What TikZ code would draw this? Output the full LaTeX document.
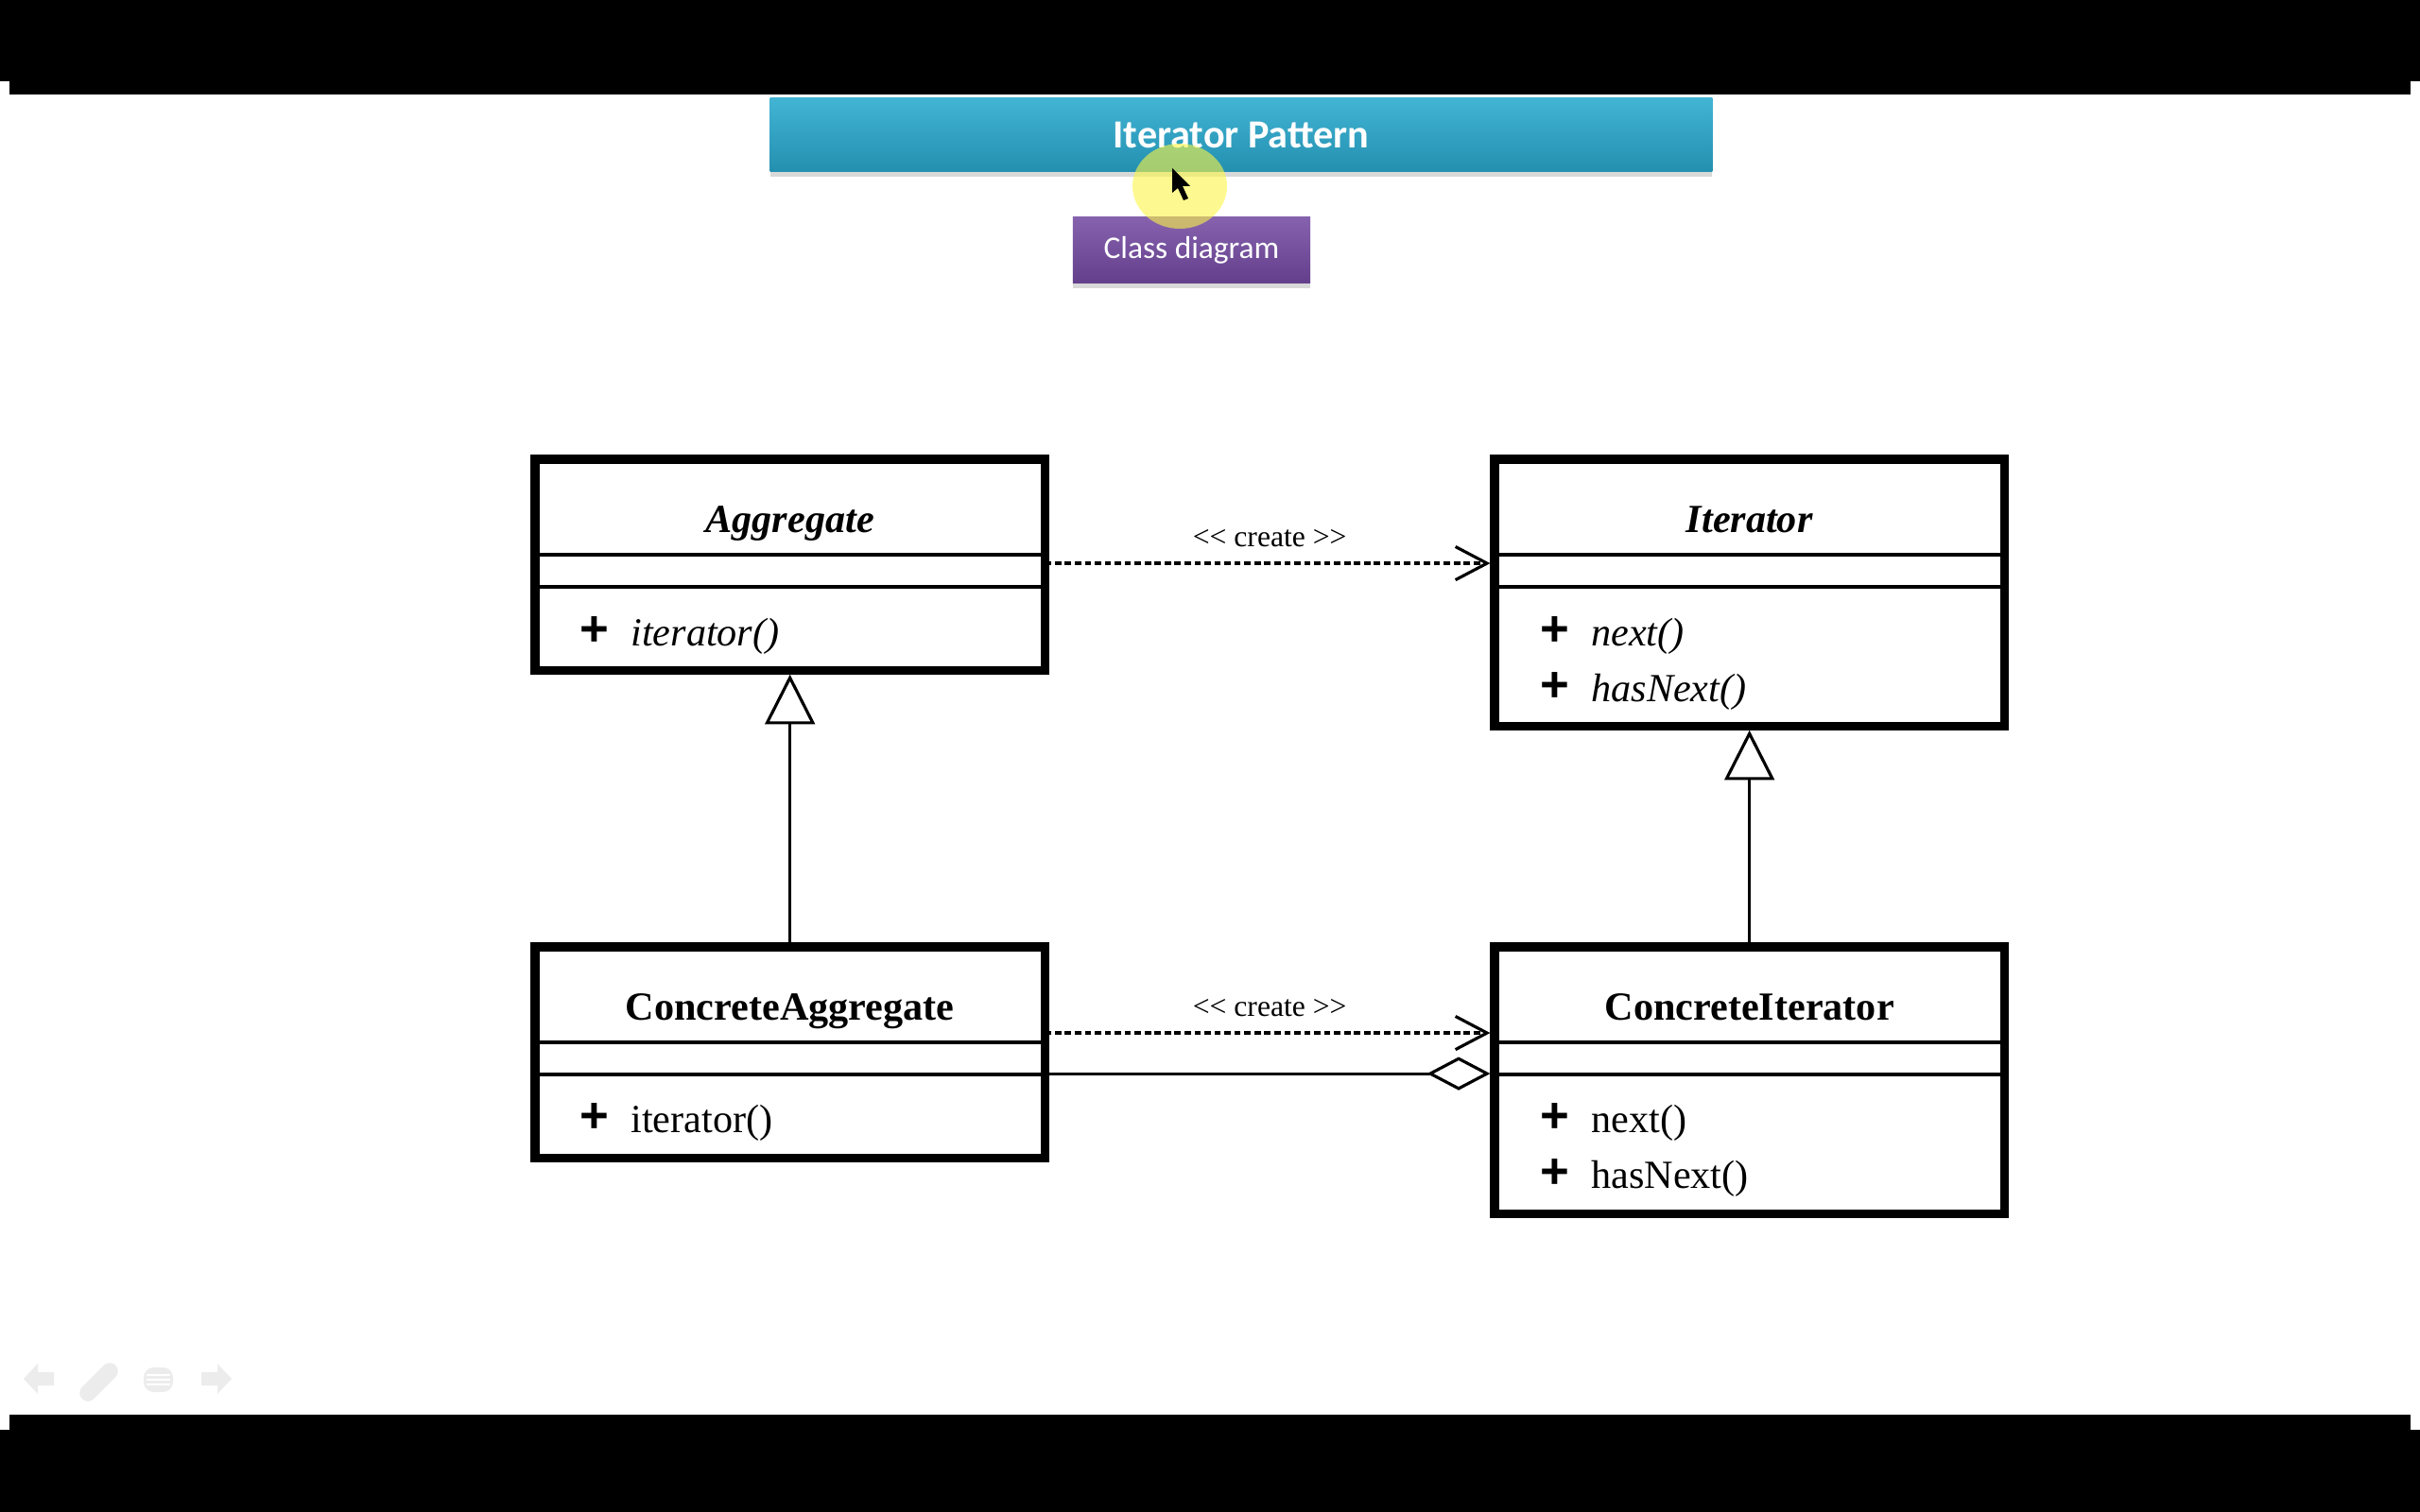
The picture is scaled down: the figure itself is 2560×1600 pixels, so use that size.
\documentclass[tikz,border=0pt]{standalone}
\usepackage{fontspec}
\setmainfont{Liberation Serif}
\newfontfamily\slidefont{Carlito}
\newfontfamily\plusfont{Liberation Sans}
\usetikzlibrary{arrows.meta,shadows}

\definecolor{titletop}{RGB}{66,180,212}
\definecolor{titlebot}{RGB}{36,144,176}
\definecolor{subtop}{RGB}{134,98,174}
\definecolor{subbot}{RGB}{100,64,140}
\definecolor{navgray}{RGB}{236,236,236}
\definecolor{spot}{RGB}{252,246,70}

\newcommand{\plusop}{{\plusfont\bfseries\fontsize{15}{15}\selectfont +}\hspace{6.5pt}}

\begin{document}
\begin{tikzpicture}[x=0.01cm, y=-0.01cm,
  slidebox/.style={inner sep=0pt, text=white,
    drop shadow={shadow xshift=0pt, shadow yshift=-0.06cm, opacity=0.3}},
  classbox/.style={draw, line width=2.6pt, outer sep=0pt, inner sep=0pt,
    anchor=north west, minimum width=5.39cm},
  classname/.style={anchor=base, inner sep=0pt, font=\fontsize{12}{14}\selectfont\bfseries},
  abstractname/.style={classname, font=\fontsize{12}{14}\selectfont\bfseries\itshape},
  method/.style={anchor=base west, inner sep=0pt, font=\fontsize{12}{14}\selectfont},
  sepline/.style={line width=1pt},
  dependency/.style={line width=0.9pt, dash pattern=on 1.9pt off 1.1pt,
    -{Straight Barb[length=9.5pt, width=10pt]}, shorten >=1.3pt},
  createlabel/.style={anchor=base, inner sep=0pt, yshift=0.18cm,
    font=\fontsize{9}{11}\selectfont},
  generalize/.style={line width=0.9pt, -{Triangle[open, length=15pt, width=15pt]}, shorten >=1.3pt},
  aggregation/.style={line width=0.9pt, -{Diamond[open, length=19pt, width=10pt]}, shorten >=1.3pt}
]
  % Moldura do video
  \fill[black] (0,0) rectangle (2560,1600);
  \fill[white] (0,86) rectangle (2560,1513);
  \fill[black] (10,86) rectangle (2550,100);
  \fill[black] (10,1497) rectangle (2550,1513);
  \useasboundingbox (0,0) rectangle (2560,1600);

  % Titulo
  \node[slidebox, minimum width=9.96cm, minimum height=0.77cm,
    top color=titletop, bottom color=titlebot,
    font=\slidefont\bfseries\fontsize{12}{14}\selectfont] (title) at (1313,142.5) {Iterator Pattern};
  \node[slidebox, minimum width=2.51cm, minimum height=0.69cm,
    top color=subtop, bottom color=subbot,
    font=\slidefont\fontsize{9.5}{11}\selectfont] (sub) at (1260.5,264.5) {Class diagram};

  % Classes
  \node[classbox, minimum height=2.23cm] (agg) at (566,486) {};
  \node[classbox, minimum height=2.82cm] (itr) at (1581,486) {};
  \node[classbox, minimum height=2.23cm] (cagg) at (566,1002) {};
  \node[classbox, minimum height=2.82cm] (citr) at (1581,1002) {};

  \foreach \b in {agg,itr,cagg,citr} {
    \draw[sepline] ([yshift=-1.01cm]\b.north west) -- ([yshift=-1.01cm]\b.north east);
    \draw[sepline] ([yshift=-1.35cm]\b.north west) -- ([yshift=-1.35cm]\b.north east);
  }

  \node[abstractname] (aggname) at ([yshift=-0.77cm]agg.north) {Aggregate};
  \node[abstractname] (itrname) at ([yshift=-0.77cm]itr.north) {Iterator};
  \node[classname] (caggname) at ([yshift=-0.77cm]cagg.north) {ConcreteAggregate};
  \node[classname] (citrname) at ([yshift=-0.77cm]citr.north) {ConcreteIterator};

  % Metodos
  \node[method] (aggm1) at ([xshift=0.47cm, yshift=-1.97cm]agg.north west) {\plusop\textit{iterator()}};
  \node[method] (itrm1) at ([xshift=0.48cm, yshift=-1.97cm]itr.north west) {\plusop\textit{next()}};
  \node[method] (itrm2) at ([xshift=0.48cm, yshift=-2.56cm]itr.north west) {\plusop\textit{hasNext()}};
  \node[method] (caggm1) at ([xshift=0.47cm, yshift=-1.96cm]cagg.north west) {\plusop iterator()};
  \node[method] (citrm1) at ([xshift=0.48cm, yshift=-1.96cm]citr.north west) {\plusop next()};
  \node[method] (citrm2) at ([xshift=0.48cm, yshift=-2.55cm]citr.north west) {\plusop hasNext()};

  % Relacoes
  \draw[dependency] ([yshift=-1.10cm]agg.north east) --
    node[createlabel] {<\kern0pt< create >\kern0pt>} ([yshift=-1.10cm]itr.north west);
  \draw[dependency] ([yshift=-0.91cm]cagg.north east) --
    node[createlabel] {<\kern0pt< create >\kern0pt>} ([yshift=-0.91cm]citr.north west);
  \draw[aggregation] ([yshift=-1.34cm]cagg.north east) -- ([yshift=-1.34cm]citr.north west);
  \draw[generalize] (cagg.north) -- (agg.south);
  \draw[generalize] (citr.north) -- (itr.south);

  % Cursor
  \fill[spot, opacity=0.6] (1248,197) ellipse (50 and 45);
  \fill[black] (1240,178) -- (1240,204) -- (1246,199) -- (1252,212) -- (1257,210)
    -- (1251,197) -- (1259,197) -- cycle;

  % Navegacao
  \fill[navgray] (25,1459) -- (40,1443) -- (40,1452) -- (57,1452) -- (57,1466) -- (40,1466) -- (40,1475) -- cycle;
  \draw[navgray, line width=5pt, line cap=round] (93,1474) -- (116,1451);
  \fill[navgray, rounded corners=3pt] (152,1447) rectangle (183,1473);
  \foreach \ly in {1455,1460,1465}
    \draw[white, line width=0.6pt] (155,\ly) -- (180,\ly);
  \fill[navgray] (245,1459) -- (230,1443) -- (230,1452) -- (213,1452) -- (213,1466) -- (230,1466) -- (230,1475) -- cycle;
\end{tikzpicture}
\end{document}
